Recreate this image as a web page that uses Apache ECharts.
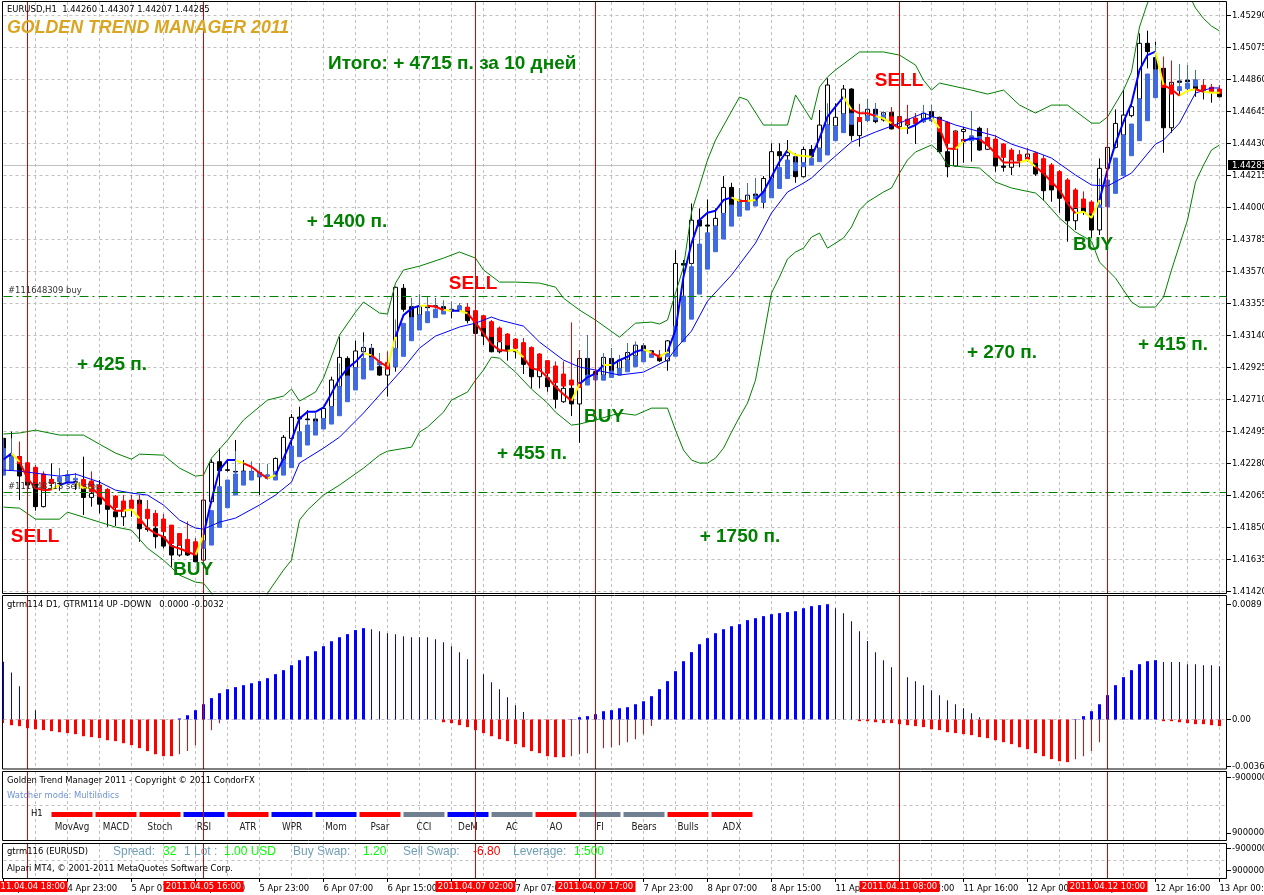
<!DOCTYPE html>
<html><head><meta charset="utf-8">
<style>html,body{margin:0;padding:0;background:#fff}#c{width:1264px;height:895px}</style>
<script src="https://cdn.jsdelivr.net/npm/echarts@6/dist/echarts.min.js"></script>
</head><body><div id="c"></div>
<script>
// all prices in points above 1.40000
const candleHigh=[2449,2494,2426,2326,2270,2225,2281,2247,2236,2214,
2326,2225,2169,2113,2068,2068,2068,2068,2034,1967,
1940,1866,1810,1889,1777,2034,2308,2382,2308,2438,
2303,2292,2281,2276,2321,2471,2612,2662,2639,2617,
2666,2863,3132,3000,3105,3161,3083,3020,3031,3468,
3486,3390,3419,3401,3390,3374,3367,3356,3356,3334,
3278,3244,3199,3154,3121,3121,3065,3020,2971,2964,
2964,3226,3042,3143,2919,3019,3053,3008,3087,3098,
3087,3042,3042,3109,3714,3647,4027,3994,4054,3994,
4211,4166,4128,4162,4195,4211,4431,4431,4453,4363,
4408,4419,4655,4868,4700,4823,4801,4696,4727,4700,
4644,4673,4673,4689,4633,4689,4689,4610,4577,4521,
4543,4648,4543,4532,4487,4431,4398,4386,4398,4375,
4353,4297,4252,4196,4129,4106,4050,4330,4498,4659,
4789,4700,5170,5188,5114,5013,4986,4964,4957,4924,
4861,4829,4823];
const candleLow=[2202,2236,2034,2057,1963,1985,2102,2097,2146,2102,
1934,1990,1945,1855,1860,1860,1922,1754,1822,1710,
1710,1586,1654,1658,1620,1627,2012,2057,2225,2202,
2202,2169,2068,2173,2169,2303,2393,2460,2561,2538,
2572,2650,2785,2818,2919,3027,2908,2868,2729,2897,
3300,3244,3266,3300,3316,3307,3255,3300,3222,3143,
3076,3027,3020,2971,2986,2881,2785,2785,2762,2650,
2688,2599,2420,2807,2807,2863,2885,2907,2952,2997,
3019,3019,2963,2903,3187,3400,3602,3754,3826,3866,
3949,4005,4027,4032,4072,3994,4189,4274,4319,4166,
4202,4330,4386,4543,4449,4622,4449,4409,4577,4566,
4577,4525,4532,4494,4427,4570,4577,4364,4203,4275,
4301,4308,4382,4386,4241,4241,4218,4270,4308,4212,
4046,4039,3965,3770,3849,3950,3797,3815,3916,4397,
4476,4606,4722,4935,4919,4368,4502,4756,4789,4744,
4726,4704,4740];
const candleOpen=[2449,2337,2326,2236,2202,1990,2173,2146,2202,2158,
2146,2052,2079,2007,1956,1922,1990,2034,1846,1844,
1788,1728,1665,1732,1676,1631,2023,2292,2238,2227,
2229,2227,2220,2202,2173,2308,2449,2592,2579,2579,
2579,2662,2796,2986,2924,3031,3054,2930,2874,2930,
3457,3334,3278,3336,3340,3334,3316,3307,3329,3244,
3195,3136,3031,3076,3038,3031,2946,2863,2856,2800,
2695,2785,2680,2986,2897,2874,2986,2919,2975,3004,
3071,3037,3008,2970,3199,3624,3624,3915,3882,3875,
3960,4135,4050,4039,4090,4106,4195,4375,4348,4341,
4207,4390,4398,4554,4548,4628,4796,4483,4588,4660,
4588,4640,4543,4554,4599,4577,4644,4606,4375,4279,
4510,4480,4532,4391,4458,4279,4270,4353,4337,4364,
4234,4151,4118,4039,3911,4001,3961,3849,4263,4404,
4487,4617,4729,5103,5007,4935,4536,4850,4856,4856,
4807,4807,4778];
const candleClose=[2314,2292,2196,2135,1990,2180,2146,2144,2187,2151,
2052,2079,2007,1972,1922,1967,2028,1842,1837,1788,
1725,1665,1732,1665,1620,2034,2288,2231,2234,2223,
2218,2223,2191,2180,2314,2456,2590,2579,2574,2561,
2650,2841,2993,2868,3036,3060,2971,2874,2942,3464,
3316,3260,3334,3327,3334,3311,3307,3338,3240,3154,
3136,3031,3098,3036,3031,2946,2863,2919,2796,2711,
2785,2680,2986,2874,2852,2993,2896,2975,3026,3075,
3031,3024,2970,3104,3624,3613,3915,3875,3875,3927,
4135,4016,4034,4083,4077,4195,4375,4348,4368,4207,
4390,4341,4554,4823,4606,4796,4483,4604,4660,4577,
4637,4528,4610,4592,4566,4633,4584,4375,4274,4514,
4525,4465,4386,4469,4279,4270,4330,4315,4359,4225,
4113,4118,4062,3911,3994,3972,3849,4263,4404,4565,
4621,4677,5103,5047,4928,4536,4841,4841,4845,4794,
4789,4778,4744];
const trendOpen=[2202,2236,2326,2285,2254,2209,2173,2158,2158,2169,
2173,2162,2135,2106,2061,2028,2034,2007,1972,1945,
1907,1866,1810,1770,1754,1710,1732,1851,1983,2068,
2135,2169,2191,2180,2169,2202,2252,2326,2404,2471,
2512,2545,2601,2695,2774,2848,2908,2942,2960,2930,
3000,3105,3177,3226,3260,3284,3304,3307,3329,3307,
3273,3233,3190,3150,3116,3092,3060,3016,2971,2935,
2881,2841,2825,2807,2841,2840,2858,2874,2896,2930,
2963,2993,2999,2997,3001,3098,3250,3418,3586,3703,
3788,3875,3942,3983,4010,4034,4065,4128,4195,4247,
4274,4285,4308,4353,4449,4503,4559,4604,4584,4588,
4606,4610,4606,4592,4599,4577,4584,4592,4572,4505,
4458,4449,4460,4469,4458,4427,4386,4353,4335,4364,
4328,4286,4241,4185,4118,4057,4037,4001,4005,4095,
4214,4348,4449,4583,4738,4834,4823,4785,4798,4816,
4821,4807,4796];
const trendClose=[2382,2326,2281,2158,2146,2113,2146,2187,2202,2180,
2113,2090,2057,2001,1985,1963,1978,1878,1909,1860,
1822,1743,1732,1687,1676,1761,1963,2124,2169,2209,
2225,2225,2218,2202,2225,2303,2397,2494,2538,2561,
2583,2662,2796,2868,2924,2986,2993,2964,2915,3054,
3222,3260,3278,3300,3316,3316,3311,3338,3307,3228,
3192,3132,3103,3076,3054,2993,2926,2919,2886,2823,
2800,2807,2792,2874,2874,2874,2901,2919,2970,3001,
3031,3019,2990,3019,3203,3405,3602,3754,3830,3875,
3960,4016,4034,4039,4077,4106,4195,4269,4319,4301,
4301,4330,4398,4554,4543,4628,4633,4577,4617,4626,
4622,4570,4577,4561,4566,4599,4606,4510,4431,4391,
4442,4480,4476,4420,4337,4337,4319,4315,4324,4301,
4234,4151,4118,4039,4001,4001,3961,4017,4184,4332,
4487,4561,4729,4897,4924,4807,4762,4812,4834,4856,
4789,4778,4767];
const trendHigh=[2449,2449,2426,2326,2270,2225,2173,2247,2236,2214,
2173,2225,2135,2113,2068,2068,2068,2068,2034,1967,
1940,1866,1810,1889,1777,1761,1963,2124,2169,2364,
2225,2292,2281,2276,2225,2303,2397,2494,2574,2617,
2583,2662,2953,2868,2924,3098,3076,3020,3031,3248,
3222,3390,3419,3401,3390,3374,3367,3356,3356,3334,
3278,3244,3199,3154,3121,3121,3065,3020,2971,2964,
2964,3226,3042,3143,2919,3019,3053,3008,3087,3098,
3087,3042,3042,3019,3400,3405,3624,3875,3830,3875,
3960,4016,4128,4162,4195,4106,4195,4269,4319,4363,
4301,4330,4398,4700,4543,4628,4633,4696,4727,4700,
4644,4673,4673,4689,4633,4689,4689,4610,4577,4521,
4458,4648,4476,4532,4487,4431,4398,4386,4398,4375,
4353,4297,4252,4196,4129,4106,4050,4196,4184,4332,
4487,4561,4729,4897,5092,5013,4986,4964,4957,4924,
4861,4829,4823];
const fastLine=[2307,2348,2291,2180,2113,2101,2106,2135,2153,2153,
2113,2117,2068,2012,1962,1962,1971,1911,1844,1810,
1787,1725,1709,1687,1664,1799,2034,2236,2303,2303,
2281,2258,2217,2180,2202,2314,2437,2583,2627,2627,
2657,2751,2852,2919,2963,3020,3008,2963,2930,3131,
3277,3322,3340,3340,3333,3311,3306,3306,3289,3225,
3154,3082,3042,3037,3042,2993,2919,2908,2859,2795,
2746,2701,2814,2859,2885,2941,2941,2975,2997,3031,
3047,3024,2997,3031,3176,3535,3759,3916,3965,3978,
4050,4068,4043,4043,4050,4106,4207,4307,4386,4352,
4346,4341,4465,4610,4677,4744,4659,4633,4633,4614,
4599,4565,4532,4532,4554,4592,4603,4532,4397,4393,
4446,4465,4458,4420,4364,4303,4303,4303,4319,4274,
4229,4173,4117,4028,3961,3971,3931,4050,4252,4431,
4576,4700,4924,5024,5047,4823,4794,4751,4784,4794,
4778,4771,4771];
// colour of each step of the fast line: b blue, y yellow, r red
const fastState="byrrrrybby"+"yrrrryyrrr"+"rrrrybbbby"+"rrrybbbbbb"+"bbbbbyrryb"+"bbyrrybyrr"+"rrryyrrrrr"+"rybbbybbbb"+"yrybbbbbbb"+"byrybbbbyy"+"ybbbbyrrry"+"yrybbbyrry"+"bbrrrrryyr"+"rrrryyybbb"+"bbbbyrryyr"+"yy";
const slowLine=[[0,2236],[2,2229],[4,2215],[7,2195],[9,2209],[12,2155],[14,2101],[16,2081],[18,2068],[20,2001],[22,1900],[24,1846],[25,1839],[27,1886],[29,1913],[32,2001],[34,2068],[36,2155],[37,2283],[40,2383],[42,2457],[45,2619],[48,2800],[50,2921],[52,3055],[54,3136],[57,3197],[59,3223],[61,3264],[62,3244],[65,3203],[67,3096],[70,2975],[72,2928],[74,2908],[77,2874],[80,2894],[83,2975],[84,3049],[86,3170],[88,3371],[91,3546],[94,3761],[96,3963],[98,4104],[100,4164],[101,4198],[103,4299],[106,4440],[109,4507],[112,4567],[115,4635],[119,4554],[124,4480],[126,4426],[129,4373],[131,4332],[134,4218],[136,4151],[138,4144],[141,4231],[144,4426],[145,4453],[147,4567],[149,4769],[151,4803],[152,4803]];
const upperBand=[[0,2478],[2,2485],[4,2504],[7,2471],[10,2471],[12,2410],[14,2350],[16,2309],[17,2343],[20,2336],[22,2249],[24,2195],[25,2202],[26,2316],[28,2437],[30,2572],[33,2706],[35,2733],[36,2780],[37,2699],[39,2760],[40,2854],[42,3143],[44,3297],[45,3365],[47,3291],[48,3284],[49,3492],[50,3580],[52,3606],[55,3660],[57,3701],[59,3660],[60,3580],[62,3499],[64,3499],[67,3492],[69,3465],[70,3391],[72,3311],[74,3244],[77,3129],[78,3176],[79,3223],[81,3230],[82,3217],[83,3244],[84,3425],[85,3600],[86,3969],[88,4319],[89,4453],[92,4742],[93,4722],[95,4554],[98,4554],[99,4756],[101,4588],[102,4809],[103,4877],[104,4924],[107,5045],[110,5045],[112,5024],[114,4957],[115,4856],[116,4789],[117,4836],[121,4789],[123,4762],[125,4789],[127,4688],[129,4635],[131,4688],[133,4688],[136,4567],[137,4567],[138,4608],[140,4789],[141,4910],[142,5213],[143,5374],[144,5450],[146,5490],[148,5450],[149,5340],[150,5270],[151,5219],[152,5186]];
const lowerBand=[[0,1987],[2,1980],[4,1906],[7,1906],[8,1953],[10,1920],[14,1853],[16,1832],[18,1711],[20,1631],[22,1530],[24,1483],[25,1476],[26,1409],[27,1300],[28,1150],[29,1050],[30,1000],[31,1010],[32,1150],[33,1409],[35,1564],[36,1631],[37,1900],[38,1967],[40,2068],[42,2135],[45,2249],[47,2336],[48,2363],[51,2390],[52,2491],[53,2525],[55,2625],[56,2706],[58,2760],[59,2840],[60,2908],[61,2995],[62,2988],[64,2894],[66,2780],[68,2686],[69,2625],[71,2538],[72,2545],[74,2572],[77,2619],[79,2605],[81,2652],[83,2652],[84,2504],[85,2370],[86,2303],[87,2283],[88,2283],[89,2316],[90,2383],[91,2491],[92,2592],[93,2686],[94,2840],[95,3129],[96,3425],[97,3533],[98,3654],[99,3701],[100,3727],[101,3801],[102,3828],[103,3727],[104,3761],[105,3795],[106,3869],[107,3983],[108,4037],[110,4104],[111,4131],[112,4231],[113,4319],[114,4373],[116,4420],[117,4373],[118,4285],[120,4272],[122,4265],[124,4171],[126,4131],[129,4097],[130,4050],[131,3990],[132,3929],[134,3835],[136,3774],[137,3633],[139,3526],[141,3365],[142,3331],[144,3331],[145,3398],[146,3580],[147,3748],[148,3916],[149,4171],[150,4285],[151,4386],[152,4420]];
const orderLevels=[1.43402,1.42085];
const currentPrice=1.44285;
const priceTicks=[1.45290,1.45075,1.44860,1.44645,1.44430,1.44215,1.44000,1.43785,1.43570,1.43355,1.43140,1.42925,1.42710,1.42495,1.42280,1.42065,1.41850,1.41635,1.41420];
const oscTicks=[0.0089,0,-0.0036];
const watcherTicks=[-9000000,9000000];
// oscillator in units of 0.00001
const upThick=[0,0,0,0,0,0,0,0,0,0,
0,0,0,0,0,0,0,0,0,0,
0,0,8,33,72,118,165,203,234,250,
265,280,296,319,350,381,419,458,489,527,
566,604,635,659,690,705,0,0,0,0,
0,0,0,0,0,0,0,0,0,0,
0,0,0,0,0,0,0,0,0,0,
0,3,18,26,41,64,72,87,95,118,
141,180,234,296,373,450,520,581,628,666,
697,720,736,767,782,798,813,821,829,836,
859,875,883,890,0,0,0,0,0,0,
0,0,0,0,0,0,0,0,0,0,
0,0,0,0,0,0,0,0,0,0,
0,0,0,0,3,26,64,118,188,265,
327,381,427,450,458,0,0,0,0,0,
0,0,0];
const upThin=[445,363,257,0,72,0,0,0,0,0,
0,0,0,0,0,0,0,0,0,0,
0,0,0,0,0,0,0,0,0,0,
0,0,0,0,0,0,0,0,0,0,
0,0,0,0,0,0,697,682,666,659,
643,635,635,635,620,597,566,520,466,406,
350,288,234,172,111,57,0,0,0,0,
0,0,0,0,0,0,0,0,0,0,
0,0,0,0,0,0,0,0,0,0,
0,0,0,0,0,0,0,0,0,0,
0,0,0,0,859,821,759,682,605,520,
458,404,368,327,296,265,226,188,149,118,
87,49,18,0,0,0,0,0,0,0,
0,0,0,0,0,0,0,0,0,0,
0,0,0,0,0,443,443,443,427,427,
419,419,412];
const downThick=[0,44,51,67,75,82,90,98,105,113,
129,136,144,160,167,183,198,221,244,268,
283,283,0,0,0,0,0,0,0,0,
0,0,0,0,0,0,0,0,0,0,
0,0,0,0,0,0,0,0,0,0,
0,0,0,0,0,21,28,44,59,82,
105,129,152,167,190,214,244,260,283,291,
291,0,0,0,0,0,0,0,0,0,
0,0,0,0,0,0,0,0,0,0,
0,0,0,0,0,0,0,0,0,0,
0,0,0,0,0,0,0,13,13,21,
28,28,36,44,51,59,75,82,98,105,
113,121,136,144,160,175,190,214,229,260,
283,306,322,329,0,0,0,0,0,0,
0,0,0,0,0,13,13,21,28,36,
36,44,51];
const downThin=[26,0,0,0,0,0,0,0,0,0,
0,0,0,0,0,0,0,0,0,0,
0,0,268,244,198,130,82,28,0,0,
0,0,0,0,0,0,0,0,0,0,
0,0,0,0,0,0,0,0,0,0,
0,0,0,0,0,0,0,0,0,0,
0,0,0,0,0,0,0,0,0,0,
0,283,268,260,229,221,214,198,175,152,
113,51,0,0,0,0,0,0,0,0,
0,0,0,0,0,0,0,0,0,0,
0,0,0,0,0,0,0,0,0,0,
0,0,0,0,0,0,0,0,0,0,
0,0,0,0,0,0,0,0,0,0,
0,0,0,0,306,283,244,175,0,5,
0,0,0,0,0,0,0,0,0,0,
0,0,0];
const timeLabels=["4 Apr 15:00","4 Apr 23:00","5 Apr 07:00","5 Apr 15:00","5 Apr 23:00","6 Apr 07:00","6 Apr 15:00","6 Apr 23:00","7 Apr 07:00","7 Apr 15:00","7 Apr 23:00","8 Apr 07:00","8 Apr 15:00","11 Apr 00:00","11 Apr 08:00","11 Apr 16:00","12 Apr 00:00","12 Apr 08:00","12 Apr 16:00","13 Apr 00:00"];
const eventBars=[3,25,59,74,112,138];
const eventLabels=["2011.04.04 18:00","2011.04.05 16:00","2011.04.07 02:00","2011.04.07 17:00","2011.04.11 08:00","2011.04.12 10:00"];
const signalNames=["MovAvg","MACD","Stoch","RSI","ATR","WPR","Mom","Psar","CCI","DeM","AC","AO","FI","Bears","Bulls","ADX"];
const signalColors=["#ff0000","#ff0000","#ff0000","#0000ff","#ff0000","#0000ff","#0000ff","#ff0000","#708090","#0000ff","#708090","#ff0000","#708090","#708090","#ff0000","#ff0000"];

const FONT='"DejaVu Sans Condensed","Liberation Sans",sans-serif';
const FONT2='"Liberation Sans",Arial,sans-serif';
const SIZE=9.4;
const GRID='#c0c0c0';
const toPrice=p=>+(1.4+p/100000).toFixed(5);
const XMAX=152.9375;
const PANE4_BOTTOM=14727274;

const grids=[
 {left:3.5,width:1223.5,top:2,height:592,outerBoundsMode:'none',containLabel:false},
 {left:3.5,width:1223.5,top:595,height:174,outerBoundsMode:'none',containLabel:false},
 {left:3.5,width:1223.5,top:771,height:69,outerBoundsMode:'none',containLabel:false},
 {left:3.5,width:1223.5,top:843,height:35,outerBoundsMode:'none',containLabel:false},
 {left:50,width:704,top:812,height:5,outerBoundsMode:'none',containLabel:false}
];
const dash={color:GRID,type:[3,3],width:1};
const timeTicks=timeLabels.map((_,k)=>8*k);
function timeAxis(i,labels){
 return {type:'value',gridIndex:i,min:0,max:XMAX,interval:4,
  axisLine:{show:false},axisTick:{show:false},
  axisLabel:labels?{show:true,customValues:timeTicks,align:'left',margin:6,fontFamily:FONT,fontSize:SIZE,color:'#000',
     showMinLabel:true,showMaxLabel:true,hideOverlap:false,alignMinLabel:'left',alignMaxLabel:'left',
     formatter:v=>timeLabels[Math.round(v/8)]||''}:{show:false},
  splitLine:{show:true,showMinLine:false,showMaxLine:false,lineStyle:dash}};
}
function sideAxis(i,min,max,ticks,fmt,inverse){
 return {type:'value',gridIndex:i,position:'right',min,max,inverse:!!inverse,
  axisLine:{show:false},axisTick:{show:false},
  axisLabel:{show:true,customValues:ticks,formatter:fmt,margin:5,fontFamily:FONT,fontSize:SIZE,color:'#000',
     showMinLabel:true,showMaxLabel:true,hideOverlap:false},
  splitLine:{show:false}};
}
const xAxis=[timeAxis(0),timeAxis(1),timeAxis(2),timeAxis(3,true),
 {type:'category',gridIndex:4,data:signalNames,axisLine:{show:false},axisTick:{show:false},
  axisLabel:{interval:0,margin:5,fontFamily:FONT,fontSize:9.8,color:'#222'},splitLine:{show:false}}];
const yAxis=[
 sideAxis(0,1.414032,1.453807,priceTicks,v=>v.toFixed(5)),
 sideAxis(1,-0.00382,0.00961,oscTicks,v=>v===0?'0.00':v.toFixed(4)),
 sideAxis(2,-11290909,11290909,watcherTicks,v=>String(v),true),
 sideAxis(3,-13909090,PANE4_BOTTOM,watcherTicks,v=>String(v),true),
 {type:'value',gridIndex:4,min:0,max:1,show:false}
];
// short tick marks outside each pane's frame, placed through the pane's own scales
const sideTicks=(i,ticks)=>({type:'custom',name:'ticks'+i,xAxisIndex:i,yAxisIndex:i,z:36,silent:true,clip:false,
 encode:{x:0,y:1},data:ticks.map(v=>[XMAX,v]),
 renderItem:(p,api)=>{const c=api.coord([api.value(0),api.value(1)]);const y=Math.floor(c[1])+0.5;
  return {type:'line',shape:{x1:c[0],y1:y,x2:c[0]+4,y2:y},style:{stroke:'#000',lineWidth:1}};}});
const bottomTicks={type:'custom',name:'time ticks',xAxisIndex:3,yAxisIndex:3,z:36,silent:true,clip:false,
 encode:{x:0,y:1},data:timeTicks.map(v=>[v,PANE4_BOTTOM]),
 renderItem:(p,api)=>{const c=api.coord([api.value(0),api.value(1)]);
  return {type:'line',shape:{x1:c[0],y1:c[1],x2:c[0],y2:c[1]+4},style:{stroke:'#000',lineWidth:1}};}};
function guides(i,horiz,withLabels){
 const vert=eventBars.map((b,k)=>{
  const d={xAxis:b};
  if(withLabels) d.label={show:true,position:'end',formatter:eventLabels[k],distance:3,color:'#fff',backgroundColor:'#ff0000',
    fontFamily:FONT,fontSize:SIZE,padding:[1,0,1,0],width:80,align:'center',lineHeight:9};
  return d;});
 return [
  {type:'line',name:'hgrid'+i,xAxisIndex:i,yAxisIndex:i,data:[],z:1,silent:true,
   markLine:{silent:true,symbol:'none',animation:false,z:1,precision:5,label:{show:false},lineStyle:dash,data:horiz.map(v=>({yAxis:v}))}},
  {type:'line',name:'events'+i,xAxisIndex:i,yAxisIndex:i,data:[],z:30,silent:true,
   markLine:{silent:true,symbol:'none',animation:false,z:30,label:{show:false},lineStyle:{color:'#e00000',type:'solid',width:1},data:vert}}
 ];
}
const thinLine=(name,pairs,color)=>({type:'line',name,xAxisIndex:0,yAxisIndex:0,z:14,showSymbol:false,silent:true,
  data:pairs.map(p=>[p[0],toPrice(p[1])]),lineStyle:{color,width:1},itemStyle:{color}});
const fastColors={b:'#0000ff',y:'#ffff00',r:'#ff0000'};
const fastSeries=Object.keys(fastColors).map(c=>{
 const data=[];
 for(let i=0;i<fastState.length;i++){
  if(fastState[i]!==c) continue;
  data.push([i,toPrice(fastLine[i])],[i+1,toPrice(fastLine[i+1])]);
  if(fastState[i+1]!==c) data.push([i+1,null]);
 }
 return {type:'line',name:'fast-'+c,xAxisIndex:0,yAxisIndex:0,z:16,showSymbol:false,silent:true,connectNulls:false,
  data,lineStyle:{color:fastColors[c],width:2},itemStyle:{color:fastColors[c]}};
});
const histRender=(color,w)=>(params,api)=>{
 const top=api.coord([api.value(0),api.value(1)]);
 const base=api.coord([api.value(0),0]);
 return {type:'rect',shape:{x:top[0]-w/2,y:Math.min(top[1],base[1]),width:w,height:Math.abs(top[1]-base[1])},style:{fill:color}};
};
const histSeries=(name,arr,sign,color,w)=>({type:'custom',name,xAxisIndex:1,yAxisIndex:1,z:5,silent:true,clip:false,
 encode:{x:0,y:1},data:arr.map((v,i)=>[i,sign*v/100000]).filter(d=>d[1]!==0),renderItem:histRender(color,w)});

const series=[
 ...guides(0,priceTicks),
 {type:'candlestick',name:'EURUSD,H1',xAxisIndex:0,yAxisIndex:0,z:10,silent:true,clip:false,barWidth:4,
  encode:{x:0,y:[1,2,3,4]},
  data:candleOpen.map((o,i)=>[i,toPrice(o),toPrice(candleClose[i]),toPrice(candleLow[i]),toPrice(candleHigh[i])]),
  itemStyle:{color:'#fff',color0:'#000',borderColor:'#000',borderColor0:'#000',borderWidth:1}},
 {type:'candlestick',name:'Trend',xAxisIndex:0,yAxisIndex:0,z:11,silent:true,clip:false,barWidth:5,
  encode:{x:0,y:[1,2,3,4]},
  data:trendOpen.map((o,i)=>[i,toPrice(o),toPrice(trendClose[i]),toPrice(Math.min(o,trendClose[i])),toPrice(trendHigh[i])]),
  itemStyle:{color:'#4169e1',color0:'#ff0000',borderColor:'#4169e1',borderColor0:'#ff0000',borderWidth:1}},
 thinLine('Upper band',upperBand,'#008000'),
 thinLine('Lower band',lowerBand,'#008000'),
 thinLine('Slow',slowLine,'#0000ff'),
 ...fastSeries,
 {type:'line',name:'levels',xAxisIndex:0,yAxisIndex:0,data:[],z:20,silent:true,
  markLine:{silent:true,symbol:'none',animation:false,z:20,precision:5,label:{show:false},
   lineStyle:{color:'#008000',type:[9,4,2,4],width:1},data:orderLevels.map(v=>({yAxis:v}))}},
 {type:'line',name:'current',xAxisIndex:0,yAxisIndex:0,data:[],z:9,silent:true,
  markLine:{silent:true,symbol:'none',animation:false,z:9,precision:5,lineStyle:{color:GRID,type:'solid',width:1},
   label:{show:true,position:'end',distance:1,formatter:currentPrice.toFixed(5),color:'#fff',backgroundColor:'#000',
     fontFamily:FONT,fontSize:SIZE,padding:[1,3,0,4],lineHeight:9},
   data:[{yAxis:currentPrice}]}},
 ...guides(1,[0]),
 histSeries('up thin',upThin,1,'#0000ff',1),
 histSeries('down thin',downThin,-1,'#ff0000',1),
 histSeries('up thick',upThick,1,'#0000ff',3),
 histSeries('down thick',downThick,-1,'#ff0000',3),
 ...guides(2,[0]),
 ...guides(3,[0],true),
 sideTicks(0,priceTicks),sideTicks(1,oscTicks),sideTicks(2,watcherTicks),sideTicks(3,watcherTicks),bottomTicks,
 {type:'bar',name:'signals',xAxisIndex:4,yAxisIndex:4,z:5,silent:true,barWidth:41,
  data:signalColors.map(c=>({value:1,itemStyle:{color:c}}))}
];

const T=(text,x,y,font,fill,align)=>({type:'text',z:40,silent:true,style:{x,y,text,font,fill,
  align:align||'left',textAlign:align||'left',verticalAlign:'middle',textVerticalAlign:'middle'}});
const small=SIZE+'px '+FONT, big='bold 19px '+FONT2, mid='12px '+FONT2, GREEN='#008000', RED='#ff0000', CADET='#6f9fb5', LIME='#00ff00';
const annotations=[
 T('EURUSD,H1  1.44260 1.44307 1.44207 1.44285',7,10,small,'#000'),
 T('GOLDEN TREND MANAGER 2011',7,28,'italic bold 17.8px '+FONT2,'#daa520'),
 T('Итого: + 4715 п. за 10 дней',328,64,big,GREEN),
 T('+ 1400 п.',347,222,big,GREEN,'center'),
 T('+ 425 п.',112,365,big,GREEN,'center'),
 T('+ 455 п.',532,454,big,GREEN,'center'),
 T('+ 1750 п.',740,537,big,GREEN,'center'),
 T('+ 270 п.',1002,353,big,GREEN,'center'),
 T('+ 415 п.',1173,345,big,GREEN,'center'),
 T('SELL',35,537,big,RED,'center'),T('SELL',473,284,big,RED,'center'),T('SELL',899,81,big,RED,'center'),
 T('BUY',193,570,big,GREEN,'center'),T('BUY',604,417,big,GREEN,'center'),T('BUY',1093,245,big,GREEN,'center'),
 T('#111648309 buy',8,291,small,'#333'),
 T('#111648313 sell stop',8,487,small,'#333'),
 T('gtrm114 D1, GTRM114 UP -DOWN   0.0000 -0.0032',7,605,small,'#000'),
 T('Golden Trend Manager 2011 - Copyright © 2011 CondorFX',7,781,small,'#000'),
 T('Watcher mode: MultiIndics',7,796,small,'#6f93d0'),
 T('H1',31,814,small,'#000'),
 T('gtrm116 (EURUSD)',7,852,small,'#000'),
 T('Alpari MT4, © 2001-2011 MetaQuotes Software Corp.',7,869,small,'#000'),
 T('Spread:',113,852,mid,CADET),T('32',163,852,mid,LIME),T('1 Lot :',184,852,mid,CADET),T('1.00 USD',224,852,mid,LIME),
 T('Buy Swap:',293,852,mid,CADET),T('1.20',363,852,mid,LIME),T('Sell Swap:',403,852,mid,CADET),T('-6.80',473,852,mid,RED),
 T('Leverage:',513,852,mid,CADET),T('1:500',574,852,mid,LIME)
];
const frame=(y,h)=>({type:'rect',z:35,silent:true,shape:{x:2.5,y,width:1224,height:h},style:{fill:'none',stroke:'#000',lineWidth:1}});
const graphic=[
 {type:'rect',z:34,silent:true,shape:{x:0,y:0,width:2,height:879},style:{fill:'#fff'}},
 frame(1.5,592),frame(595.5,173.5),frame(771.5,69),frame(843.5,35),...annotations
];
const chart=echarts.init(document.getElementById('c'),null,{renderer:'canvas',width:1264,height:895});
chart.setOption({animation:false,backgroundColor:'#fff',tooltip:{show:false},grid:grids,xAxis,yAxis,series,graphic});
</script></body></html>
